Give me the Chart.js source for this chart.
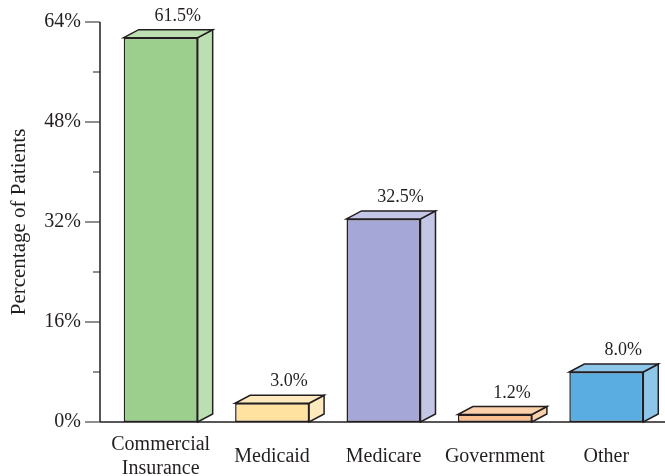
<!DOCTYPE html>
<html>
<head>
<meta charset="utf-8">
<script src="https://cdn.jsdelivr.net/npm/chart.js@4.4.1/dist/chart.umd.min.js"></script>
<style>
    html, body { margin: 0; padding: 0; background: #fff; }
    #wrap { width: 665px; height: 476px; }
</style>
</head>
<body>
<div id="wrap"><canvas id="payerChart" width="665" height="476"></canvas></div>
<script>
// Data
const categories = [['Commercial', 'Insurance'], 'Medicaid', 'Medicare', 'Government', 'Other'];
const percentages = [61.5, 3.0, 32.5, 1.2, 8.0];
const yTicks = [0, 16, 32, 48, 64];
const yMinorTicks = [8, 24, 40, 56];

// Colours for the front face and the lighter side/top faces
const frontColors = ['#9ccf8e', '#ffe1a0', '#a5a8d6', '#f9c08f', '#5aade0'];
const sideColors = ['#bcdfb1', '#ffe9bd', '#c4c6e6', '#fbd1ab', '#8ec6ea'];

const serif = "'Liberation Serif', 'Times New Roman', serif";
const ink = '#231f20';
const depthX = 15;
const depthY = 8;

// Draws the side and top faces behind each bar so the front face sits on top
const boxFaces = {
    id: 'boxFaces',
    beforeDatasetsDraw(chart) {
        const ctx = chart.ctx;
        const meta = chart.getDatasetMeta(0);
        ctx.save();
        ctx.lineWidth = 1.5;
        ctx.strokeStyle = ink;
        ctx.lineJoin = 'miter';
        meta.data.forEach((bar, i) => {
            const { x, y, width, base } = bar.getProps(['x', 'y', 'width', 'base'], true);
            const l = x - width / 2;
            const r = x + width / 2;
            ctx.fillStyle = sideColors[i];

            // side face
            ctx.beginPath();
            ctx.moveTo(r, y);
            ctx.lineTo(r + depthX, y - depthY);
            ctx.lineTo(r + depthX, base - depthY);
            ctx.lineTo(r, base);
            ctx.closePath();
            ctx.fill();
            ctx.stroke();

            // top face
            ctx.beginPath();
            ctx.moveTo(l, y);
            ctx.lineTo(l + depthX, y - depthY);
            ctx.lineTo(r + depthX, y - depthY);
            ctx.lineTo(r, y);
            ctx.closePath();
            ctx.fill();
            ctx.stroke();
        });
        ctx.restore();
    },
    afterDatasetsDraw(chart) {
        const ctx = chart.ctx;
        const meta = chart.getDatasetMeta(0);
        ctx.save();
        ctx.font = '18px ' + serif;
        ctx.fillStyle = ink;
        ctx.textAlign = 'center';
        ctx.textBaseline = 'alphabetic';
        meta.data.forEach((bar, i) => {
            ctx.fillText(percentages[i].toFixed(1) + '%', bar.x + 17, bar.y - 17);
        });
        ctx.restore();
    }
};

// Axis lines with long and short tick marks, offset a little left of the plot
const axisLines = {
    id: 'axisLines',
    afterDraw(chart) {
        const ctx = chart.ctx;
        const yScale = chart.scales.y;
        const axisX = chart.chartArea.left - 5;
        const zeroY = yScale.getPixelForValue(0);
        ctx.save();
        ctx.strokeStyle = ink;
        ctx.lineWidth = 1.5;

        ctx.beginPath();
        ctx.moveTo(axisX, yScale.getPixelForValue(64));
        ctx.lineTo(axisX, zeroY);
        ctx.moveTo(axisX, zeroY);
        ctx.lineTo(chart.width, zeroY);
        ctx.stroke();

        ctx.lineWidth = 1.2;
        ctx.beginPath();
        yTicks.forEach(v => {
            const py = yScale.getPixelForValue(v);
            ctx.moveTo(axisX - 15, py);
            ctx.lineTo(axisX, py);
        });
        yMinorTicks.forEach(v => {
            const py = yScale.getPixelForValue(v);
            ctx.moveTo(axisX - 7, py);
            ctx.lineTo(axisX, py);
        });
        ctx.stroke();
        ctx.restore();
    }
};

const ctx = document.getElementById('payerChart').getContext('2d');
const payerChart = new Chart(ctx, {
    type: 'bar',
    data: {
        labels: categories,
        datasets: [{
            data: percentages,
            backgroundColor: frontColors,
            borderColor: ink,
            borderWidth: 1.5,
            borderSkipped: false,
            barPercentage: 0.664,
            categoryPercentage: 1
        }]
    },
    options: {
        responsive: false,
        animation: false,
        events: [],
        layout: {
            padding: { top: 22, right: 3, bottom: 0, left: 0 }
        },
        plugins: {
            legend: { display: false },
            tooltip: { enabled: false }
        },
        scales: {
            x: {
                grid: { display: false, drawTicks: false },
                border: { display: false },
                afterFit(scale) { scale.height = 54; },
                ticks: {
                    color: ink,
                    padding: 23,
                    crossAlign: 'center',
                    maxRotation: 0,
                    autoSkip: false,
                    font: { family: serif, size: 20, lineHeight: 1.2 }
                }
            },
            y: {
                min: 0,
                max: 64,
                grid: { display: false, drawTicks: false },
                border: { display: false },
                afterFit(scale) {
                    scale.width = 105;
                    scale.paddingTop = 0;
                    scale.paddingBottom = 0;
                },
                afterBuildTicks(scale) {
                    scale.ticks = yTicks.map(v => ({ value: v }));
                },
                ticks: {
                    color: ink,
                    padding: 24,
                    font: { family: serif, size: 20 },
                    callback: v => v + '%'
                },
                title: {
                    display: true,
                    text: 'Percentage of Patients',
                    color: ink,
                    padding: { top: 7, bottom: 0 },
                    font: { family: serif, size: 21, lineHeight: 1.2 }
                }
            }
        }
    },
    plugins: [boxFaces, axisLines]
});
</script>
</body>
</html>
